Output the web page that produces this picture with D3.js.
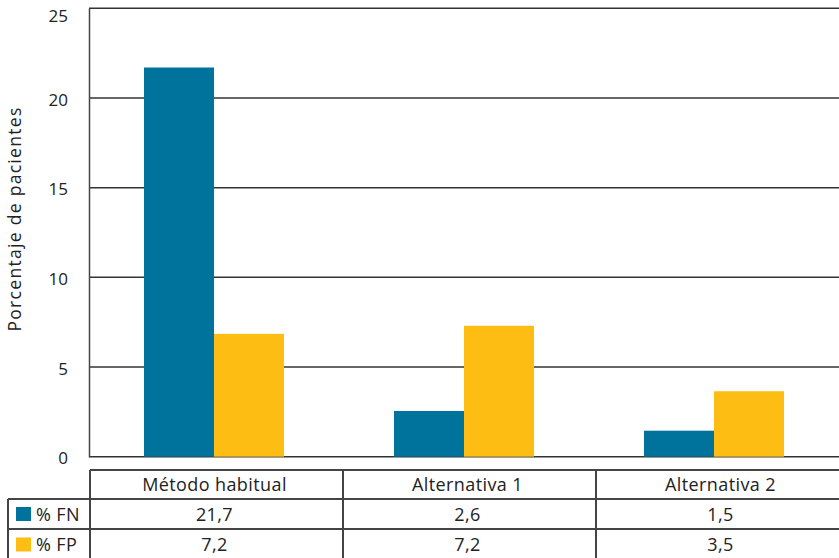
<!DOCTYPE html>
<html lang="es">
<head>
<meta charset="UTF-8">
<title>Porcentaje de pacientes</title>
<script src="https://d3js.org/d3.v7.min.js"></script>
<style>
  body { margin: 0; background: #fff; }
  text { font-family: 'Open Sans', Lato, sans-serif; fill: #222; }
</style>
</head>
<body>
<script>
  const categories = ["Método habitual", "Alternativa 1", "Alternativa 2"];
  const series = ["% FN", "% FP"];
  // bar heights
  const fnValues = [21.7, 2.55, 1.45];
  const fpValues = [6.85, 7.3, 3.65];
  // values printed in the data table
  const fnLabels = ["21,7", "2,6", "1,5"];
  const fpLabels = ["7,2", "7,2", "3,5"];
  const yTicks = [0, 5, 10, 15, 20, 25];
  const colors = ["#00739d", "#fdbd12"];

  const width = 839, height = 558;
  const plotLeft = 89, plotRight = 839, plotTop = 8.3, plotBottom = 456.7;

  const svg = d3.select("body").append("svg")
      .attr("width", width)
      .attr("height", height);

  const y = d3.scaleLinear().domain([0, 25]).range([plotBottom, plotTop]);
  const x = d3.scaleBand().domain(categories).range([plotLeft, plotRight]);
  const xs = d3.scaleBand().domain(series).range([x.bandwidth() / 2 - 70, x.bandwidth() / 2 + 70]);

  // gridlines
  svg.append("g")
      .selectAll("line")
      .data(yTicks)
      .join("line")
      .attr("x1", plotLeft).attr("x2", plotRight)
      .attr("y1", d => y(d)).attr("y2", d => y(d))
      .attr("stroke", "#333").attr("stroke-width", 1.5);

  // y axis
  const yAxis = svg.append("g")
      .attr("transform", `translate(${plotLeft},0)`)
      .call(d3.axisLeft(y).tickValues(yTicks).tickSize(0).tickPadding(21));
  yAxis.select(".domain").attr("stroke", "#444").attr("stroke-width", 1.5);
  yAxis.selectAll("text")
      .style("font-size", "17px")
      .style("font-family", "'Open Sans', Lato, sans-serif")
      .attr("fill", "#333")
      .attr("dy", d => d === 25 ? "0.75em" : "0.42em");

  svg.append("text")
      .attr("transform", "translate(21,219) rotate(-90)")
      .attr("text-anchor", "middle")
      .style("font-size", "17.5px")
      .style("letter-spacing", "1.3px")
      .text("Porcentaje de pacientes");

  // bars
  const rows = categories.map((c, i) => ({ cat: c, vals: [fnValues[i], fpValues[i]] }));
  svg.append("g")
      .selectAll("g")
      .data(rows)
      .join("g")
      .attr("transform", d => `translate(${x(d.cat)},0)`)
      .selectAll("rect")
      .data(d => d.vals.map((v, j) => ({ s: series[j], v: v, j: j })))
      .join("rect")
      .attr("x", d => xs(d.s))
      .attr("width", xs.bandwidth())
      .attr("y", d => y(d.v))
      .attr("height", d => y(0) - y(d.v))
      .attr("fill", d => colors[d.j]);

  // data table
  const tx = d3.scaleBand().domain(categories).range([90, 849]);
  const rowY = [470, 499, 529, 560];
  const lineColor = "#444";
  const tg = svg.append("g").attr("stroke", lineColor).attr("stroke-width", 2);

  tg.append("line").attr("x1", 90).attr("x2", plotRight).attr("y1", rowY[0]).attr("y2", rowY[0]);
  [rowY[1], rowY[2]].forEach(yy =>
    tg.append("line").attr("x1", 8).attr("x2", plotRight).attr("y1", yy).attr("y2", yy));
  tg.append("line").attr("x1", 8).attr("x2", 8).attr("y1", rowY[1]).attr("y2", height);
  [90].concat(categories.slice(1).map(c => tx(c))).forEach(xx =>
    tg.append("line").attr("x1", xx).attr("x2", xx).attr("y1", rowY[0]).attr("y2", height));

  const tt = svg.append("g").style("font-size", "18px").style("letter-spacing", "0.4px");
  categories.forEach(c => {
    tt.append("text")
        .attr("x", tx(c) + tx.bandwidth() / 2 - 2)
        .attr("y", (rowY[0] + rowY[1]) / 2 + 6.5)
        .attr("text-anchor", "middle")
        .text(c);
  });

  [fnLabels, fpLabels].forEach((labels, r) => {
    const cy = (rowY[r + 1] + rowY[r + 2]) / 2;
    svg.append("rect")
        .attr("x", 16).attr("y", cy - 7)
        .attr("width", 15).attr("height", 14)
        .attr("fill", colors[r]);
    tt.append("text")
        .attr("x", 36).attr("y", cy + 6.5)
        .text(series[r]);
    labels.forEach((l, i) => {
      tt.append("text")
          .attr("x", tx(categories[i]) + tx.bandwidth() / 2 - 2)
          .attr("y", cy + 6.5)
          .attr("text-anchor", "middle")
          .text(l);
    });
  });
</script>
</body>
</html>
